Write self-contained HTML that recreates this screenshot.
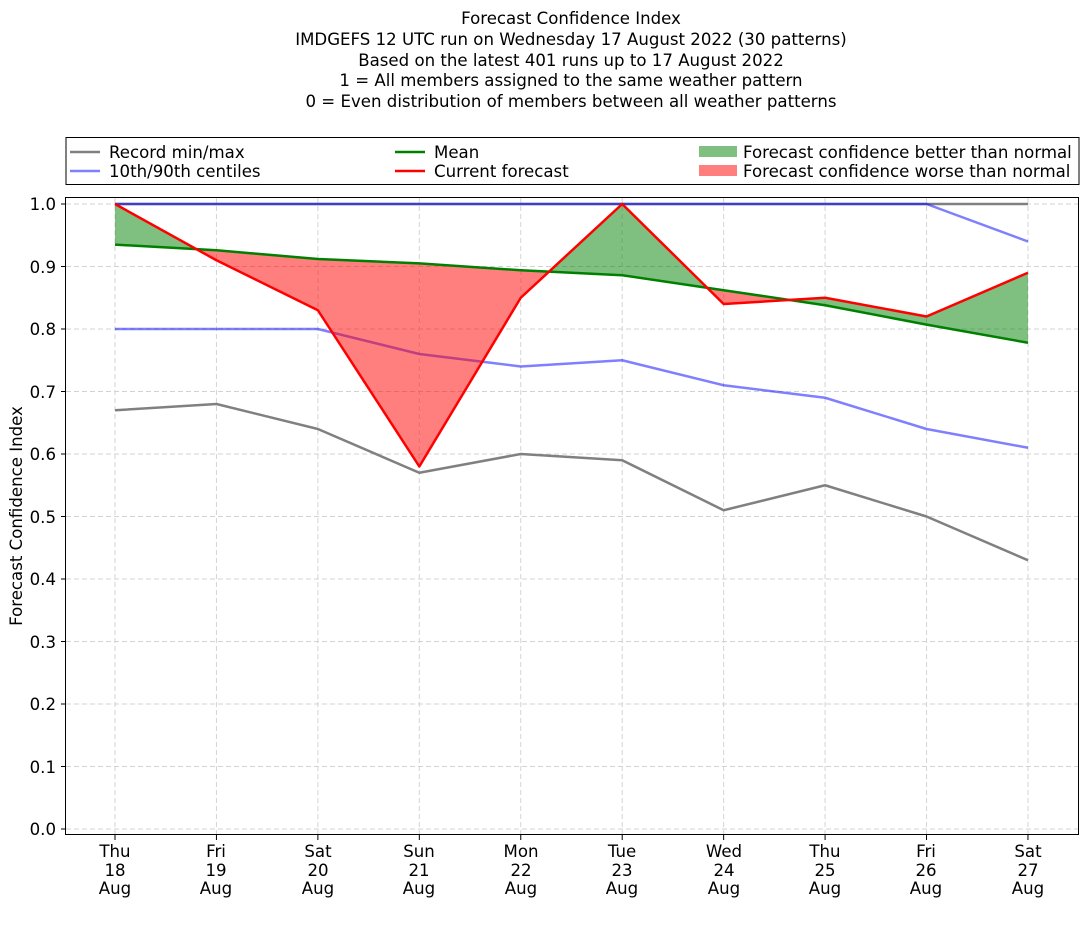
<!DOCTYPE html>
<html><head><style>
body{margin:0;background:#fff;width:1092px;height:924px;overflow:hidden}
svg text{font-family:"DejaVu Sans","Liberation Sans",sans-serif;font-size:16.6px;fill:#000}
</style></head><body>
<svg id="s" width="1092" height="924" xmlns="http://www.w3.org/2000/svg">
<g text-anchor="middle">
<text x="571" y="24">Forecast Confidence Index</text>
<text x="571" y="45">IMDGEFS 12 UTC run on Wednesday 17 August 2022 (30 patterns)</text>
<text x="571" y="66">Based on the latest 401 runs up to 17 August 2022</text>
<text x="571" y="86">1 = All members assigned to the same weather pattern</text>
<text x="571" y="107">0 = Even distribution of members between all weather patterns</text>
</g>
<rect x="66" y="137.5" width="1013" height="47" fill="#fff" stroke="#000" stroke-width="1"/>
<line x1="70" y1="152" x2="100" y2="152" stroke="#808080" stroke-width="2.5"/>
<text x="109" y="158">Record min/max</text>
<line x1="70" y1="171" x2="100" y2="171" stroke="#8080ff" stroke-width="2.5"/>
<text x="109" y="177">10th/90th centiles</text>
<line x1="395" y1="152" x2="425" y2="152" stroke="#008000" stroke-width="2.5"/>
<text x="434" y="158">Mean</text>
<line x1="395" y1="171" x2="425" y2="171" stroke="#ff0000" stroke-width="2.5"/>
<text x="434" y="177">Current forecast</text>
<rect x="699" y="146" width="38" height="11" fill="#7fbf7f"/>
<text x="743" y="158">Forecast confidence better than normal</text>
<rect x="699" y="165" width="38" height="11" fill="#ff7f7f"/>
<text x="743" y="177">Forecast confidence worse than normal</text>
<g id="grid"></g>
<g id="plot"></g>
<rect x="65.5" y="197.5" width="1013" height="637" fill="none" stroke="#000" stroke-width="1"/>
<g text-anchor="end">
<text x="56" y="210">1.0</text><text x="56" y="273">0.9</text><text x="56" y="335">0.8</text>
<text x="56" y="398">0.7</text><text x="56" y="460">0.6</text><text x="56" y="523">0.5</text>
<text x="56" y="585">0.4</text><text x="56" y="648">0.3</text><text x="56" y="710">0.2</text>
<text x="56" y="773">0.1</text><text x="56" y="835">0.0</text>
</g>
<g text-anchor="middle">
<text x="115" y="857">Thu</text><text x="115" y="876">18</text><text x="115" y="894">Aug</text>
<text x="216" y="857">Fri</text><text x="216" y="876">19</text><text x="216" y="894">Aug</text>
<text x="318" y="857">Sat</text><text x="318" y="876">20</text><text x="318" y="894">Aug</text>
<text x="419" y="857">Sun</text><text x="419" y="876">21</text><text x="419" y="894">Aug</text>
<text x="521" y="857">Mon</text><text x="521" y="876">22</text><text x="521" y="894">Aug</text>
<text x="622" y="857">Tue</text><text x="622" y="876">23</text><text x="622" y="894">Aug</text>
<text x="724" y="857">Wed</text><text x="724" y="876">24</text><text x="724" y="894">Aug</text>
<text x="825" y="857">Thu</text><text x="825" y="876">25</text><text x="825" y="894">Aug</text>
<text x="926" y="857">Fri</text><text x="926" y="876">26</text><text x="926" y="894">Aug</text>
<text x="1028" y="857">Sat</text><text x="1028" y="876">27</text><text x="1028" y="894">Aug</text>
</g>
<text transform="translate(22,516) rotate(-90)" text-anchor="middle">Forecast Confidence Index</text>
</svg>
<script>
var NS="http://www.w3.org/2000/svg";
function X(i){return 115+i*101.44}
function Y(v){return 829-625*v}
function el(p,t,a){var e=document.createElementNS(NS,t);for(var k in a)e.setAttribute(k,a[k]);p.appendChild(e);return e}
var g=document.getElementById('grid'),p=document.getElementById('plot');
for(var i=0;i<10;i++){el(g,'line',{x1:X(i),x2:X(i),y1:198,y2:835,stroke:'#d3d3d3','stroke-dasharray':'5,3'});el(g,'line',{x1:X(i),x2:X(i),y1:835,y2:840,stroke:'#000'});}
for(var j=0;j<=10;j++){var y=Y(j/10);el(g,'line',{x1:66,x2:1078,y1:y,y2:y,stroke:'#d3d3d3','stroke-dasharray':'5,3'});el(g,'line',{x1:61,x2:66,y1:y,y2:y,stroke:'#000'});}
var mx=[1,1,1,1,1,1,1,1,1,1],mn=[.67,.68,.64,.57,.60,.59,.51,.55,.50,.43];
var p90=[1,1,1,1,1,1,1,1,1,.94],p10=[.80,.80,.80,.76,.74,.75,.71,.69,.64,.61];
var m=[.935,.926,.912,.905,.894,.886,.862,.838,.807,.778],c=[1,.91,.83,.58,.85,1,.84,.85,.82,.89];
function line(d,col,op){el(p,'polyline',{points:d.map(function(v,i){return X(i)+','+Y(v)}).join(' '),fill:'none',stroke:col,'stroke-width':2.5,'stroke-linejoin':'round','stroke-opacity':op||1})}
line(mx,'#808080');line(mn,'#808080');line(p90,'#0000ff',.5);line(p10,'#0000ff',.5);
for(var i=0;i<9;i++){
 var d0=c[i]-m[i],d1=c[i+1]-m[i+1];
 function poly(pts,pos){el(p,'polygon',{points:pts.map(function(q){return q[0]+','+q[1]}).join(' '),fill:pos?'#008000':'#ff0000','fill-opacity':.5})}
 if(d0*d1>=0){poly([[X(i),Y(c[i])],[X(i+1),Y(c[i+1])],[X(i+1),Y(m[i+1])],[X(i),Y(m[i])]],d0+d1>0)}
 else{var t=d0/(d0-d1),xi=X(i)+t*101.44,yi=Y(m[i]+t*(m[i+1]-m[i]));
  poly([[X(i),Y(c[i])],[xi,yi],[X(i),Y(m[i])]],d0>0);
  poly([[xi,yi],[X(i+1),Y(c[i+1])],[X(i+1),Y(m[i+1])]],d1>0);}
}
line(m,'#008000');line(c,'#ff0000');
</script>
</body></html>
